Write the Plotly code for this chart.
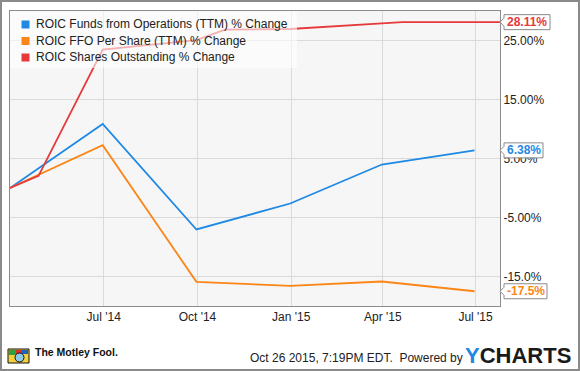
import plotly.graph_objects as go

# ---------------- data ----------------
quarter_dates = ["2014-03-31", "2014-06-30", "2014-09-30", "2014-12-31", "2015-03-31", "2015-06-30"]
ffo_change = [0.0, 10.86, -7.03, -2.63, 3.98, 6.38]
ffo_per_share_change = [0.0, 7.25, -15.9, -16.6, -15.85, -17.5]

shares_dates = ["2014-03-31", "2014-04-28", "2014-06-30", "2014-09-30", "2014-10-28",
                "2014-12-31", "2015-03-31", "2015-04-20", "2015-06-30", "2015-07-25"]
shares_change = [0.0, 2.05, 23.47, 25.05, 26.85, 26.95, 27.9, 28.11, 28.11, 28.11]

series_names = ["ROIC Funds from Operations (TTM) % Change",
                "ROIC FFO Per Share (TTM) % Change",
                "ROIC Shares Outstanding % Change"]
series_colors = ["#1e88e5", "#fb8617", "#e5393b"]
last_labels = ["6.38%", "-17.5%", "28.11%"]

x_tick_vals = ["2014-07-01", "2014-10-01", "2015-01-01", "2015-04-01", "2015-07-01"]
x_tick_text = ["Jul '14", "Oct '14", "Jan '15", "Apr '15", "Jul '15"]
y_tick_vals = [25, 15, 5, -5, -15]
y_tick_text = ["25.00%", "15.00%", "5.00%", "-5.00%", "-15.0%"]
y_range = [-20, 30]
x_range = ["2014-03-31", "2015-07-25"]

# ---------------- layout geometry (pixels) ----------------
W, H = 580, 371
L, R, T, B = 10, 80, 11, 65
PW, PH = W - L - R, H - T - B
FONT = "Liberation Sans, Arial, sans-serif"


def px(x):
    return (x - L) / PW


def py(y):
    return (H - B - y) / PH


fig = go.Figure()
series = [(quarter_dates, ffo_change), (quarter_dates, ffo_per_share_change), (shares_dates, shares_change)]
for (xs, ys), name, col in zip(series, series_names, series_colors):
    fig.add_trace(go.Scatter(x=xs, y=ys, mode="lines", name=name, showlegend=False,
                             line=dict(color=col, width=1.8), hoverinfo="skip"))

shapes = []
annotations = []

# legend background (semi transparent) and items
shapes.append(dict(type="rect", xref="paper", yref="paper", x0=px(10), x1=px(297), y0=py(68), y1=py(11),
                   fillcolor="rgba(255,255,255,0.6)", line=dict(width=0), layer="above"))
row_y = [24.5, 41, 57.5]
for name, col, ry in zip(series_names, series_colors, row_y):
    shapes.append(dict(type="rect", xref="paper", yref="paper", x0=px(21.5), x1=px(29.5),
                       y0=py(ry + 4), y1=py(ry - 4), fillcolor=col, line=dict(width=0), layer="above"))
    annotations.append(dict(xref="paper", yref="paper", x=px(34), y=py(ry), xanchor="left", yanchor="middle",
                            text=name, showarrow=False, font=dict(family=FONT, size=12, color="#222")))

# end-value callouts
ends = [(ffo_change[-1], 543), (ffo_per_share_change[-1], 547), (shares_change[-1], 550)]
pxu = (y_range[1] - y_range[0]) / PH  # data units per pixel
for (v, right), lab, col in zip(ends, last_labels, series_colors):
    h = 7.5 * pxu
    n = 4 * pxu
    x_tip, x_l, x_r = px(500), px(504), px(right)
    path = (f"M{x_tip},{v} L{x_l},{v + n} L{x_l},{v + h} L{x_r},{v + h} L{x_r},{v - h} "
            f"L{x_l},{v - h} L{x_l},{v - n} Z")
    shapes.append(dict(type="path", xref="paper", yref="y", path=path, fillcolor="white",
                       line=dict(color="#8a8a8a", width=1), layer="above"))
    annotations.append(dict(xref="paper", yref="y", x=(x_l + x_r) / 2, y=v, xanchor="center",
                            yanchor="middle", text=f"<b>{lab}</b>", showarrow=False,
                            font=dict(family=FONT, size=12, color=col)))

# footer
annotations.append(dict(xref="paper", yref="paper", x=px(465), y=py(358), xanchor="right", yanchor="middle",
                        text="Oct 26 2015, 7:19PM EDT.  Powered by", showarrow=False,
                        font=dict(family=FONT, size=12, color="#222")))
annotations.append(dict(xref="paper", yref="paper", x=px(518), y=py(355), xanchor="center", yanchor="middle",
                        text="<b><span style='color:#1e88e5'>Y</span>CHARTS</b>", showarrow=False,
                        font=dict(family=FONT, size=22, color="#1a1a1a")))
annotations.append(dict(xref="paper", yref="paper", x=px(33), y=py(352), xanchor="left", yanchor="middle",
                        text="<b>The Motley Fool.</b>", showarrow=False,
                        font=dict(family=FONT, size=10.5, color="#111")))
# simple jester logo box
shapes.append(dict(type="rect", xref="paper", yref="paper", x0=px(8), x1=px(29), y0=py(363), y1=py(349),
                   fillcolor="#f4d03f", line=dict(color="#111", width=1), layer="above"))
shapes.append(dict(type="rect", xref="paper", yref="paper", x0=px(9), x1=px(16), y0=py(355), y1=py(350),
                   fillcolor="#2e9e44", line=dict(width=0), layer="above"))
shapes.append(dict(type="rect", xref="paper", yref="paper", x0=px(16), x1=px(22), y0=py(354), y1=py(350),
                   fillcolor="#d93025", line=dict(width=0), layer="above"))
shapes.append(dict(type="rect", xref="paper", yref="paper", x0=px(22), x1=px(28), y0=py(354), y1=py(350),
                   fillcolor="#1f5fbf", line=dict(width=0), layer="above"))
shapes.append(dict(type="circle", xref="paper", yref="paper", x0=px(15), x1=px(24), y0=py(362), y1=py(353),
                   fillcolor="#8ecae6", line=dict(color="#111", width=1), layer="above"))

# outer frame
shapes.append(dict(type="rect", xref="paper", yref="paper", x0=px(1), x1=px(W - 1), y0=py(H - 1), y1=py(1),
                   fillcolor="rgba(0,0,0,0)", line=dict(color="#8a8a8a", width=2), layer="above"))

fig.update_layout(
    width=W, height=H,
    margin=dict(l=L, r=R, t=T, b=B, pad=0),
    paper_bgcolor="white", plot_bgcolor="#f6f6f6",
    showlegend=False,
    shapes=shapes, annotations=annotations,
    font=dict(family=FONT, size=12, color="#222"),
    xaxis=dict(type="date", range=x_range, tickvals=x_tick_vals, ticktext=x_tick_text,
               showgrid=True, gridcolor="#dadada", gridwidth=1, zeroline=False,
               showline=True, linecolor="#8c8c8c", linewidth=1, mirror=True, ticks="",
               tickfont=dict(family=FONT, size=12, color="#222")),
    yaxis=dict(range=y_range, side="right", tickvals=y_tick_vals, ticktext=y_tick_text,
               showgrid=True, gridcolor="#dadada", gridwidth=1, zeroline=False,
               showline=True, linecolor="#8c8c8c", linewidth=1, mirror=True, ticks="",
               tickfont=dict(family=FONT, size=12, color="#222")),
)

fig.write_html("out.html", config={"displayModeBar": False},
               post_script="document.body.style.margin='0';document.body.style.overflow='hidden';")
